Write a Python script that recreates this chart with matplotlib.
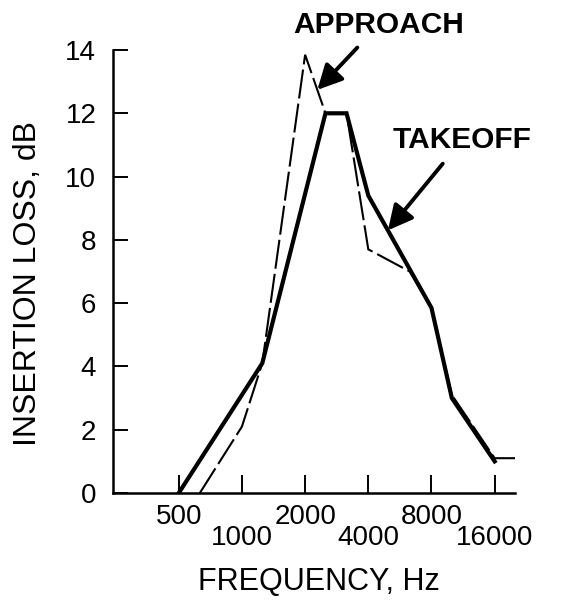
import matplotlib
matplotlib.use("Agg")
import matplotlib.pyplot as plt
from matplotlib.ticker import FixedLocator, FixedFormatter

plt.rcParams['font.family'] = ['Liberation Sans', 'DejaVu Sans']

# Data (frequency in Hz, insertion loss in dB)
takeoff_freq = [500, 1250, 2500, 3150, 4000, 8000, 10000, 16000]
takeoff_il = [0.0, 4.1, 12.0, 12.0, 9.4, 5.85, 3.0, 1.0]

approach_freq = [630, 1000, 1250, 2000, 2500, 3150, 4000, 6300, 8000, 10000, 16000, 20000]
approach_il = [0.0, 2.1, 4.1, 13.85, 12.0, 12.0, 7.7, 7.0, 5.85, 3.1, 1.1, 1.1]

upper_ticks = [500, 2000, 8000]
upper_labels = ['500', '2000', '8000']
lower_ticks = [1000, 4000, 16000]
lower_labels = ['1000', '4000', '16000']
y_ticks = [0, 2, 4, 6, 8, 10, 12, 14]

fig = plt.figure(figsize=(5.62, 6.03), dpi=100)
ax = fig.add_axes([113/562, 1-493/603, (515-113)/562, (493-50)/603])

ax.plot(approach_freq, approach_il, color='black', lw=1.5, dashes=(14, 2.5),
        solid_joinstyle='miter', dash_joinstyle='miter')
ax.plot(takeoff_freq, takeoff_il, color='black', lw=3.0, solid_joinstyle='miter')

ax.set_xscale('log')
ax.set_xlim(243, 20000)
ax.set_ylim(0, 14)

ax.xaxis.set_major_locator(FixedLocator(upper_ticks))
ax.xaxis.set_major_formatter(FixedFormatter(upper_labels))
ax.xaxis.set_minor_locator(FixedLocator(lower_ticks))
ax.xaxis.set_minor_formatter(FixedFormatter(lower_labels))
ax.set_yticks(y_ticks)
ax.set_yticklabels([str(v) for v in y_ticks])

ax.tick_params(axis='x', which='both', direction='in', length=13, width=1.4,
               labelsize=20, top=False)
ax.tick_params(axis='x', which='major', pad=8)
ax.tick_params(axis='x', which='minor', pad=23)
ax.tick_params(axis='y', direction='in', length=11, width=1.4, labelsize=20,
               pad=12, right=False)

for s in ['top', 'right']:
    ax.spines[s].set_visible(False)
for s in ['left', 'bottom']:
    ax.spines[s].set_linewidth(1.8)

ax.set_xlabel('FREQUENCY, Hz', fontsize=22, va='center')
ax.xaxis.set_label_coords((319-113)/402, (493-582)/443)
ax.set_ylabel('INSERTION LOSS, dB', fontsize=23, va='center')
ax.yaxis.set_label_coords((28-113)/402, (493-283)/443)

arrowprops = dict(arrowstyle='-|>,head_length=0.75,head_width=0.38', lw=2.8,
                  color='black', shrinkA=6, shrinkB=0, mutation_scale=20)
ax.annotate('APPROACH', xy=(2287, 12.74), xytext=(4494, 14.80),
            fontsize=21.5, fontweight='bold', ha='center', va='center',
            arrowprops=arrowprops, annotation_clip=False)
ax.annotate('TAKEOFF', xy=(4960, 8.3), xytext=(11160, 11.14),
            fontsize=21.5, fontweight='bold', ha='center', va='center',
            arrowprops=arrowprops, annotation_clip=False)

fig.savefig('out.png', dpi=100)
